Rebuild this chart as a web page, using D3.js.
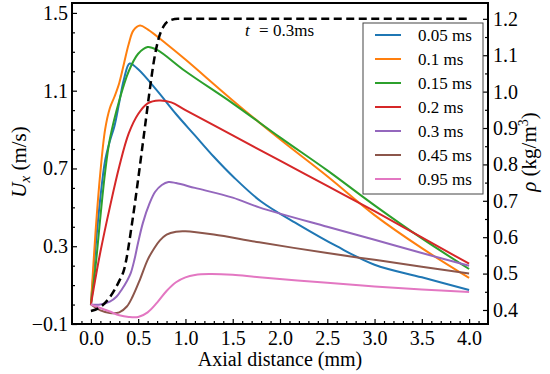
<!DOCTYPE html>
<html>
<head>
<meta charset="utf-8">
<script src="https://cdn.jsdelivr.net/npm/d3@7"></script>
<style>
  body { margin: 0; background: #fff; }
  .tick line { stroke: #000; stroke-width: 1.2; }
</style>
</head>
<body>
<svg id="chart" width="550" height="374"></svg>
<script>
// velocity profiles, [axial distance (mm), Ux (m/s)]
const ux005 = [[0,0],[0.05,0.3],[0.1,0.55],[0.15,0.74],[0.2,0.84],[0.25,0.92],[0.3,1.04],[0.35,1.16],[0.41,1.24],[0.5,1.21],[0.7,1.1],[0.9,0.98],[1.1,0.87],[1.3,0.76],[1.5,0.66],[1.8,0.53],[2.2,0.41],[2.6,0.3],[3.0,0.205],[3.5,0.14],[4.0,0.075]];
const ux01 = [[0,0],[0.05,0.38],[0.1,0.68],[0.15,0.9],[0.2,1.01],[0.25,1.07],[0.3,1.14],[0.35,1.24],[0.4,1.34],[0.45,1.41],[0.52,1.435],[0.6,1.415],[0.8,1.34],[1.0,1.26],[1.5,1.05],[2.0,0.85],[2.5,0.66],[3.0,0.46],[3.5,0.29],[4.0,0.137]];
const ux015 = [[0,0],[0.05,0.2],[0.1,0.45],[0.15,0.68],[0.2,0.85],[0.3,1.05],[0.4,1.2],[0.5,1.29],[0.6,1.325],[0.7,1.31],[1.0,1.2],[1.5,1.035],[2.0,0.86],[2.5,0.69],[3.0,0.51],[3.5,0.34],[4.0,0.183]];
const ux02 = [[0,0],[0.05,0.14],[0.1,0.27],[0.2,0.5],[0.3,0.71],[0.4,0.88],[0.5,0.98],[0.6,1.035],[0.72,1.05],[0.85,1.04],[1.0,1.0],[1.5,0.87],[2.0,0.74],[2.5,0.61],[3.0,0.48],[3.5,0.345],[4.0,0.21]];
const ux03 = [[0,0],[0.1,0.0],[0.2,0.015],[0.27,0.04],[0.33,0.08],[0.38,0.12],[0.42,0.16],[0.46,0.23],[0.5,0.32],[0.55,0.42],[0.62,0.52],[0.68,0.58],[0.75,0.615],[0.82,0.63],[0.9,0.625],[1.1,0.6],[1.5,0.55],[1.78,0.5],[2.5,0.4],[3.0,0.333],[3.5,0.265],[4.0,0.2]];
const ux045 = [[0,0],[0.1,-0.03],[0.2,-0.043],[0.3,-0.04],[0.38,-0.01],[0.44,0.04],[0.52,0.13],[0.6,0.23],[0.67,0.29],[0.73,0.33],[0.8,0.36],[0.9,0.375],[1.0,0.377],[1.3,0.36],[1.78,0.32],[2.5,0.265],[3.0,0.23],[3.5,0.195],[4.0,0.16]];
const ux095 = [[0,0],[0.1,-0.018],[0.2,-0.036],[0.3,-0.055],[0.4,-0.064],[0.5,-0.064],[0.6,-0.04],[0.7,0.01],[0.8,0.07],[0.9,0.115],[1.0,0.14],[1.1,0.152],[1.25,0.157],[1.5,0.153],[1.78,0.14],[2.5,0.112],[3.0,0.093],[3.5,0.078],[4.0,0.065]];

// density at t = 0.3 ms, [axial distance (mm), rho (kg/m3)]
const rho03 = [[0,0.397],[0.1,0.408],[0.2,0.435],[0.3,0.48],[0.35,0.51],[0.44,0.647],[0.5,0.76],[0.57,0.9],[0.62,1.0],[0.67,1.09],[0.71,1.14],[0.77,1.18],[0.83,1.195],[0.92,1.2],[1.2,1.2],[4.0,1.2]];

const series = [ux005, ux01, ux015, ux02, ux03, ux045, ux095];
const labels = ["0.05 ms", "0.1 ms", "0.15 ms", "0.2 ms", "0.3 ms", "0.45 ms", "0.95 ms"];
const colors = ["#1f77b4", "#ff7f0e", "#2ca02c", "#d62728", "#9467bd", "#8c564b", "#e377c2"];

const xTicks = [0, 0.5, 1.0, 1.5, 2.0, 2.5, 3.0, 3.5, 4.0];
const uTicks = [-0.1, 0.3, 0.7, 1.1, 1.5];
const rhoTicks = [0.4, 0.5, 0.6, 0.7, 0.8, 0.9, 1.0, 1.1, 1.2];

const LEFT = 72, RIGHT = 488, TOP = 3, BOTTOM = 324;
const SERIF = "'Liberation Serif', 'Times New Roman', Tinos, serif";

const svg = d3.select("#chart");

const x = d3.scaleLinear().domain([-0.2, 4.2]).range([LEFT, RIGHT]);
const yU = d3.scaleLinear().domain([-0.1, 1.551]).range([BOTTOM, TOP]);
const yR = d3.scaleLinear().domain([0.3615, 1.2435]).range([BOTTOM, TOP]);

const fmt = d3.format(".1f");

// minor tick positions (every 0.1 on x and U, every 0.05 on rho)
const xMinor = d3.range(-1, 42).map(i => i / 10).filter(v => Math.abs(v * 2 - Math.round(v * 2)) > 1e-6);
const uMinor = d3.range(-1, 16).map(i => i / 10).filter(v => !uTicks.some(t => Math.abs(t - v) < 1e-6));
const rMinor = d3.range(9, 25).map(i => i / 20).filter(v => Math.abs(v * 10 - Math.round(v * 10)) > 1e-6 && v > 0.3615 && v < 1.2435);

function addAxis (axis, transform) {
  const g = svg.append("g").attr("transform", transform).call(axis);
  g.attr("font-size", 20);
  g.select(".domain").remove();
  return g;
}

addAxis(d3.axisBottom(x).tickValues(xTicks).tickFormat(fmt).tickSizeInner(-5).tickSizeOuter(0).tickPadding(7), `translate(0,${BOTTOM})`);
addAxis(d3.axisBottom(x).tickValues(xMinor).tickFormat("").tickSizeInner(-3).tickSizeOuter(0), `translate(0,${BOTTOM})`);
addAxis(d3.axisLeft(yU).tickValues(uTicks).tickFormat(fmt).tickSizeInner(-5).tickSizeOuter(0).tickPadding(4), `translate(${LEFT},0)`);
addAxis(d3.axisLeft(yU).tickValues(uMinor).tickFormat("").tickSizeInner(-3).tickSizeOuter(0), `translate(${LEFT},0)`);
addAxis(d3.axisRight(yR).tickValues(rhoTicks).tickFormat(fmt).tickSizeInner(-5).tickSizeOuter(0).tickPadding(5), `translate(${RIGHT},0)`);
addAxis(d3.axisRight(yR).tickValues(rMinor).tickFormat("").tickSizeInner(-3).tickSizeOuter(0), `translate(${RIGHT},0)`);

// velocity curves
const lineU = d3.line().x(d => x(d[0])).y(d => yU(d[1])).curve(d3.curveCatmullRom.alpha(0.5));
svg.append("g").selectAll("path")
    .data(series).enter()
  .append("path")
    .attr("d", lineU)
    .attr("fill", "none")
    .attr("stroke", (d, i) => colors[i])
    .attr("stroke-width", 2);

// density, dashed
const lineR = d3.line().x(d => x(d[0])).y(d => yR(d[1])).curve(d3.curveMonotoneX);
svg.append("path")
    .datum(rho03)
    .attr("d", lineR)
    .attr("fill", "none")
    .attr("stroke", "#000")
    .attr("stroke-width", 2.5)
    .attr("stroke-dasharray", "8,4.5");

// frame
svg.append("rect")
    .attr("x", LEFT).attr("y", TOP)
    .attr("width", RIGHT - LEFT).attr("height", BOTTOM - TOP)
    .attr("fill", "none").attr("stroke", "#000").attr("stroke-width", 2);

// annotation
const note = svg.append("text").attr("y", 36).attr("font-size", 17);
note.append("tspan").attr("x", 245).attr("font-style", "italic").text("t");
note.append("tspan").attr("x", 259).text("=");
note.append("tspan").attr("x", 273).text("0.3ms");

// axis titles
svg.append("text")
    .attr("x", x(2)).attr("y", 366)
    .attr("text-anchor", "middle").attr("font-size", 20)
    .text("Axial distance (mm)");

const yl = svg.append("text")
    .attr("transform", "translate(26,162) rotate(-90)")
    .attr("text-anchor", "middle").attr("font-size", 21);
yl.append("tspan").attr("font-style", "italic").text("U");
yl.append("tspan").attr("font-style", "italic").attr("font-size", 15).attr("dy", 4).text("x");
yl.append("tspan").attr("dy", -4).text(" (m/s)");

const rl = svg.append("text")
    .attr("transform", "translate(536,152) rotate(-90)")
    .attr("text-anchor", "middle").attr("font-size", 21);
rl.append("tspan").attr("font-style", "italic").text("ρ");
rl.append("tspan").text(" (kg/m");
rl.append("tspan").attr("font-size", 14).attr("dy", -8).text("3");
rl.append("tspan").attr("dy", 8).text(")");

// legend
const legend = svg.append("g");
legend.append("rect")
    .attr("x", 363).attr("y", 23).attr("width", 120).attr("height", 171)
    .attr("fill", "#fff").attr("stroke", "#444").attr("stroke-width", 1);
const items = legend.selectAll("g.item")
    .data(labels).enter()
  .append("g")
    .attr("class", "item")
    .attr("transform", (d, i) => `translate(0,${35 + i * 24})`);
items.append("line")
    .attr("x1", 375).attr("x2", 401)
    .attr("stroke", (d, i) => colors[i]).attr("stroke-width", 2);
items.append("text")
    .attr("x", 418).attr("dy", "0.33em").attr("font-size", 17)
    .text(d => d);

// serif everywhere, set on each text node
svg.selectAll("text").style("font-family", SERIF).style("fill", "#000");
</script>
</body>
</html>
